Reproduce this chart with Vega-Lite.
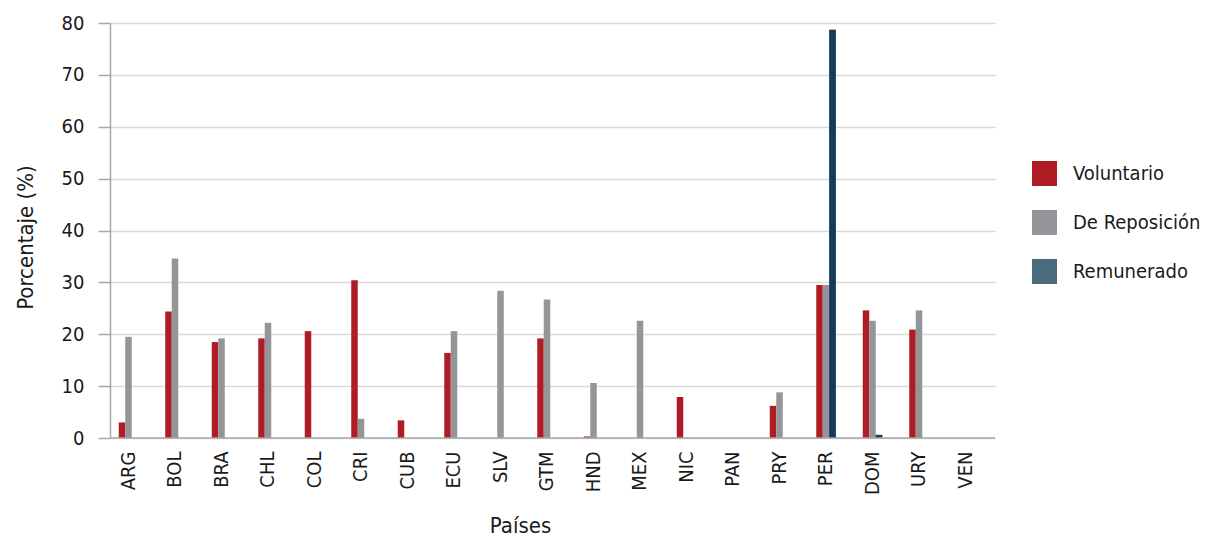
{
  "$schema": "https://vega.github.io/schema/vega-lite/v6.json",
  "width": 885,
  "height": 415,
  "autosize": {"type": "none"},
  "padding": {"left": 110, "top": 23, "right": 214, "bottom": 99},
  "background": "white",
  "config": {
    "font": "Liberation Sans Narrow, DejaVu Sans Condensed, Roboto, sans-serif",
    "view": {"stroke": null}
  },
  "data": {
    "values": [
      {"pais": "ARG", "serie": "Voluntario", "valor": 3.0},
      {"pais": "ARG", "serie": "De Reposición", "valor": 19.5},
      {"pais": "BOL", "serie": "Voluntario", "valor": 24.4},
      {"pais": "BOL", "serie": "De Reposición", "valor": 34.6},
      {"pais": "BRA", "serie": "Voluntario", "valor": 18.5},
      {"pais": "BRA", "serie": "De Reposición", "valor": 19.2},
      {"pais": "CHL", "serie": "Voluntario", "valor": 19.2},
      {"pais": "CHL", "serie": "De Reposición", "valor": 22.2},
      {"pais": "COL", "serie": "Voluntario", "valor": 20.6},
      {"pais": "CRI", "serie": "Voluntario", "valor": 30.4},
      {"pais": "CRI", "serie": "De Reposición", "valor": 3.7},
      {"pais": "CUB", "serie": "Voluntario", "valor": 3.4},
      {"pais": "ECU", "serie": "Voluntario", "valor": 16.4},
      {"pais": "ECU", "serie": "De Reposición", "valor": 20.6},
      {"pais": "SLV", "serie": "De Reposición", "valor": 28.4},
      {"pais": "GTM", "serie": "Voluntario", "valor": 19.2},
      {"pais": "GTM", "serie": "De Reposición", "valor": 26.7},
      {"pais": "HND", "serie": "Voluntario", "valor": 0.3},
      {"pais": "HND", "serie": "De Reposición", "valor": 10.6},
      {"pais": "MEX", "serie": "De Reposición", "valor": 22.6},
      {"pais": "NIC", "serie": "Voluntario", "valor": 7.9},
      {"pais": "PRY", "serie": "Voluntario", "valor": 6.2},
      {"pais": "PRY", "serie": "De Reposición", "valor": 8.8},
      {"pais": "PER", "serie": "Voluntario", "valor": 29.5},
      {"pais": "PER", "serie": "De Reposición", "valor": 29.5},
      {"pais": "PER", "serie": "Remunerado", "valor": 78.7},
      {"pais": "DOM", "serie": "Voluntario", "valor": 24.6},
      {"pais": "DOM", "serie": "De Reposición", "valor": 22.6},
      {"pais": "DOM", "serie": "Remunerado", "valor": 0.6},
      {"pais": "URY", "serie": "Voluntario", "valor": 20.9},
      {"pais": "URY", "serie": "De Reposición", "valor": 24.6}
    ]
  },
  "encoding": {
    "x": {
      "field": "pais",
      "type": "nominal",
      "scale": {
        "domain": ["ARG", "BOL", "BRA", "CHL", "COL", "CRI", "CUB", "ECU", "SLV", "GTM", "HND", "MEX", "NIC", "PAN", "PRY", "PER", "DOM", "URY", "VEN"],
        "paddingInner": 0.58,
        "paddingOuter": 0.306,
        "align": 0.307
      },
      "axis": {
        "title": "Países",
        "titleFontSize": 22,
        "titleFontWeight": "normal",
        "titleColor": "#1a1a1a",
        "titleX": 410,
        "titleY": 94,
        "titleBaseline": "alphabetic",
        "labelAngle": -90,
        "labelFontSize": 20,
        "labelColor": "#1a1a1a",
        "labelPadding": 13,
        "ticks": false,
        "domain": false,
        "grid": false
      }
    },
    "xOffset": {
      "field": "serie",
      "type": "nominal",
      "scale": {"domain": ["Voluntario", "De Reposición", "Remunerado"], "paddingInner": 0, "paddingOuter": 0}
    },
    "y": {
      "field": "valor",
      "type": "quantitative",
      "scale": {"domain": [0, 80], "nice": false},
      "axis": {
        "title": "Porcentaje (%)",
        "titleFontSize": 22,
        "titleFontWeight": "normal",
        "titleColor": "#1a1a1a",
        "titleX": -85,
        "titleY": 214,
        "titleBaseline": "middle",
        "values": [0, 10, 20, 30, 40, 50, 60, 70, 80],
        "labelFontSize": 20,
        "labelColor": "#1a1a1a",
        "labelPadding": 14,
        "tickSize": 12,
        "tickColor": "#A6A6A6",
        "tickWidth": 1.5,
        "domainColor": "#A6A6A6",
        "domainWidth": 1.5,
        "gridColor": "#D9D9D9",
        "gridWidth": 1.5
      }
    }
  },
  "layer": [
    {
      "mark": {"type": "bar"},
      "encoding": {
        "color": {
          "field": "serie",
          "type": "nominal",
          "scale": {"domain": ["Voluntario", "De Reposición", "Remunerado"], "range": ["#B01C24", "#939598", "#4A6B7C"]},
          "legend": {
            "title": null,
            "orient": "none",
            "legendX": 922,
            "legendY": 138,
            "symbolType": "square",
            "symbolSize": 625,
            "symbolStrokeWidth": 0,
            "symbolOpacity": 1,
            "labelFontSize": 20,
            "labelColor": "#1a1a1a",
            "labelOffset": 16,
            "rowPadding": 24
          }
        }
      }
    },
    {
      "transform": [{"filter": "datum.serie === 'Remunerado'"}],
      "mark": {"type": "bar", "color": "#163A5C"}
    },
    {
      "data": {"values": [{"v": 0}]},
      "mark": {"type": "rule", "color": "#A6A6A6", "strokeWidth": 1.5},
      "encoding": {"x": null, "xOffset": null, "y": {"field": "v", "type": "quantitative"}}
    }
  ]
}
